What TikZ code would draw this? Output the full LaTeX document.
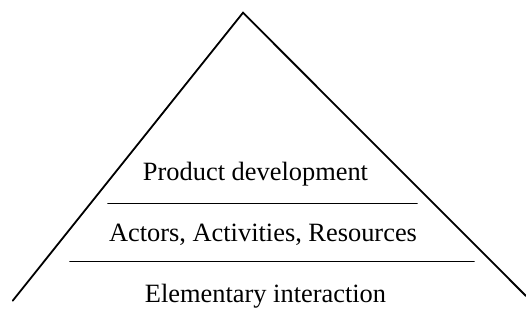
\documentclass[tikz,border=0pt]{standalone}
\usepackage{fontspec}
\setmainfont{Liberation Serif}
\usepackage{tikz}
\usetikzlibrary{positioning}

\begin{document}
\begin{tikzpicture}
  [x=1pt,y=-1pt,
   edge/.style={draw,line width=1.8pt,line cap=round},
   levellabel/.style={anchor=base,inner sep=0pt,font=\fontsize{26.4}{30}\selectfont}]
  \useasboundingbox (0,0) rectangle (526,324);
  % pyramid
  \coordinate (apex) at (243,12.7);
  \coordinate (leftfoot) at (12.7,300.7);
  \coordinate (rightfoot) at (526,296);
  \draw [edge] (leftfoot) -- (apex) -- (rightfoot);
  % level separators
  \coordinate (upperleft) at (108,203.5);
  \coordinate (upperright) at (417,203.5);
  \coordinate (lowerleft) at (70,261.5);
  \coordinate (lowerright) at (474,261.5);
  \draw [edge] (upperleft) -- (upperright);
  \draw [edge] (lowerleft) -- (lowerright);
  % levels
  \node (product) at (255.5,180) [levellabel] {Product development};
  \node (actors) at (263,241) [levellabel] {Actors, Activities, Resources};
  \node (elementary) at (265.5,302) [levellabel] {Elementary interaction};
\end{tikzpicture}
\end{document}
